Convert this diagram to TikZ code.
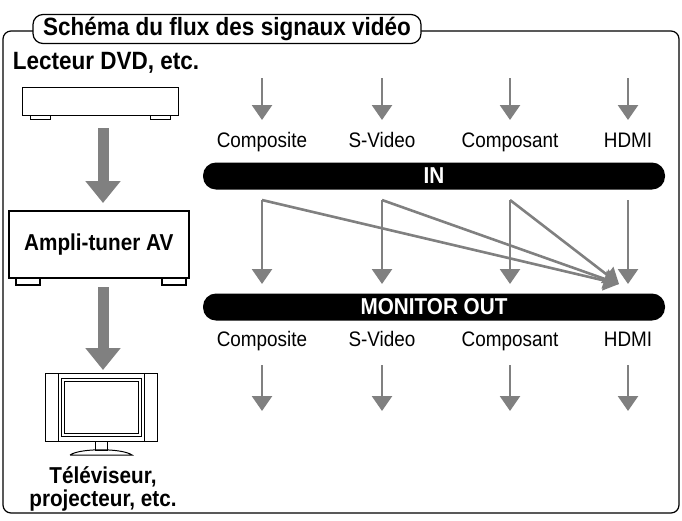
\documentclass[tikz,border=0pt]{standalone}
\usepackage{fontspec}
\setmainfont{Liberation Sans}[FakeStretch=0.9]
\usetikzlibrary{arrows.meta}
\begin{document}
\begin{tikzpicture}[x=1pt,y=-1pt,
 ar/.style={draw=arr,line width=2.6pt,-{Triangle[length=15pt,width=20pt]}},
 big/.style={draw=arr,line width=11pt,-{Triangle[length=22pt,width=34pt]}},
 bar/.style={fill=black,rounded corners=13pt,text=white,font=\bfseries\fontsize{23}{24}\selectfont,minimum height=27pt,minimum width=462pt,inner sep=0pt},
 lbl/.style={font=\fontsize{21}{23}\selectfont,anchor=base},
 bl/.style={font=\bfseries\fontsize{25}{24}\selectfont,align=center},
 bs/.style={font=\bfseries\fontsize{23}{23}\selectfont,align=center},
 dev/.style={draw=black,line width=1.5pt,fill=white}]
\definecolor{arr}{RGB}{128,128,128}
\useasboundingbox (0,0) rectangle (682,520);
\draw[line width=1.2pt,rounded corners=8pt] (3,31) rectangle (679,513);
\node[draw,line width=1.2pt,fill=white,rounded corners=10pt,minimum width=388pt,minimum height=29pt,inner sep=1pt,font=\bfseries\fontsize{25}{24}\selectfont] (title) at (227,29) {Schéma du flux des signaux vidéo};
\node[bl] (dvdl) at (106,63) {Lecteur DVD, etc.};
% DVD
\draw[dev,line width=1pt] (30,115) rectangle (50,119) (150,115) rectangle (170,119);
\node[dev,line width=1pt,minimum width=156pt,minimum height=28pt,anchor=north west] (dvd) at (22,87) {};
% amp
\draw[dev] (16,277) rectangle (40,285) (162,277) rectangle (186,285);
\node[dev,minimum width=180pt,minimum height=67pt,anchor=north west,bs] (amp) at (8,210) {Ampli-tuner AV};
\coordinate (a1) at (103,128); \coordinate (a2) at (103,203);
\coordinate (a3) at (103,287); \coordinate (a4) at (103,370);
\draw[big] (a1) -- (a2);
\draw[big] (a3) -- (a4);
% TV
\node[dev,line width=1pt,minimum width=112pt,minimum height=68pt,anchor=north west] (tv) at (45,373) {};
\draw[line width=1pt] (58,373) -- (58,441) (144,373) -- (144,441);
\draw[line width=1pt] (61,378) rectangle (141,436) (64,381) rectangle (138,433);
\draw[line width=1pt] (95,441) rectangle (107,450);
\draw[line width=1pt] (70,455) .. controls (80,448) and (122,448) .. (132,455) -- (70,455);
\node[bs,inner sep=0pt] (tvl) at (103,489) {Téléviseur,\\projecteur, etc.};
% bars
\node[bar] (in) at (434,176) {IN};
\node[bar] (mo) at (434,307) {MONITOR OUT};
\foreach \x/\t [count=\i] in {262/Composite,382/S-Video,510/Composant,628/HDMI}{
 \node[lbl] (ti\i) at (\x,147) {\t};
 \node[lbl] (bo\i) at (\x,346) {\t};
 \coordinate (ts\i) at (\x,78); \coordinate (te\i) at (\x,120);
 \coordinate (ms\i) at (\x,200); \coordinate (me\i) at (\x,284);
 \coordinate (bs\i) at (\x,365); \coordinate (be\i) at (\x,411);
 \draw[ar] (ts\i) -- (te\i);
 \draw[ar] (bs\i) -- (be\i);
}
\draw[ar] (ms4) -- (me4);
\coordinate (hd) at (619,284);
\foreach \i in {1,2,3}{
 \draw[ar] (ms\i) -- (me\i);
 \draw[ar,line join=round] (ms\i) -- (hd);
}
\end{tikzpicture}
\end{document}
